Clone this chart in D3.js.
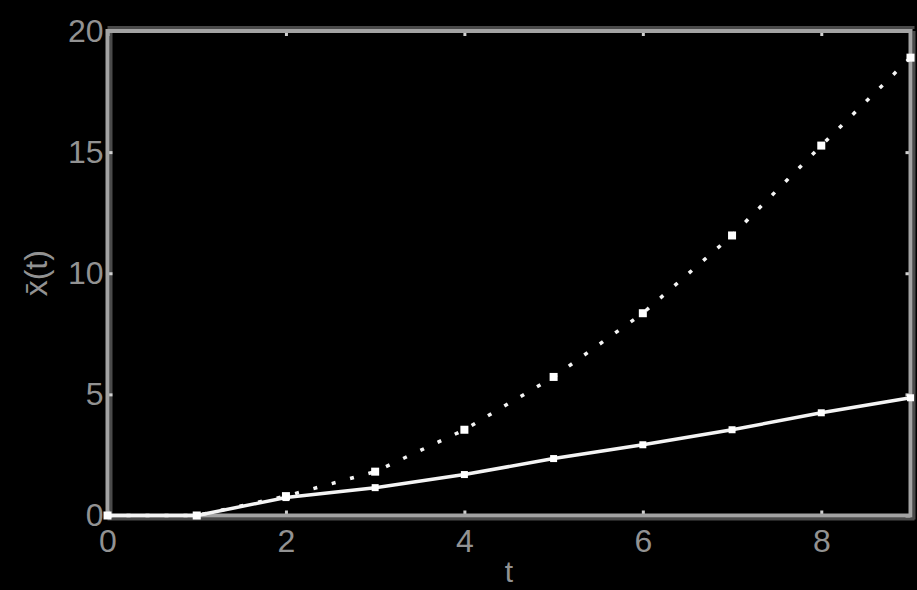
<!DOCTYPE html>
<html>
<head>
<meta charset="utf-8">
<script src="https://cdn.jsdelivr.net/npm/d3@7"></script>
<style>
  html, body { margin: 0; padding: 0; background: #000; }
  svg { display: block; }
</style>
</head>
<body>
<svg id="chart" width="917" height="590"></svg>
<script>
// ---- data ----
const tValues = [0, 1, 2, 3, 4, 5, 6, 7, 8, 9];
const upperSeries = [0, 0, 0.8, 1.81, 3.54, 5.72, 8.35, 11.56, 15.27, 18.9];   // dotted
const lowerSeries = [0, 0, 0.74, 1.15, 1.69, 2.35, 2.92, 3.54, 4.24, 4.86];   // solid
const xTicks = [0, 2, 4, 6, 8];
const yTicks = [0, 5, 10, 15, 20];
const xLabel = "t";
const yLabel = "x\u0304(t)";

// ---- layout ----
const W = 917, H = 590;
const pL = 107.5, pR = 910.5, pT = 31, pB = 515.5;
const svg = d3.select("#chart");
svg.append("rect").attr("width", W).attr("height", H).attr("fill", "#000");

const x = d3.scaleLinear().domain([0, 9]).range([pL, pR]);
const y = d3.scaleLinear().domain([0, 20]).range([pB, pT]);

const font = "'Liberation Sans', 'DejaVu Sans', Arial, sans-serif";
const axisColor = "#a3a3a3";
const shade = "#4a4a4a";
const textColor = "#929292";

// frame shadows
const g0 = svg.append("g");
g0.append("line").attr("x1", pL).attr("x2", pR + 4).attr("y1", pT - 3.5).attr("y2", pT - 3.5).attr("stroke", shade).attr("stroke-width", 3);
g0.append("line").attr("x1", pL + 3.5).attr("x2", pL + 3.5).attr("y1", pT).attr("y2", pB).attr("stroke", shade).attr("stroke-width", 3);
g0.append("line").attr("x1", pL).attr("x2", pR + 4).attr("y1", pB + 3.5).attr("y2", pB + 3.5).attr("stroke", shade).attr("stroke-width", 3);
g0.append("line").attr("x1", pR + 3.5).attr("x2", pR + 3.5).attr("y1", pT).attr("y2", pB + 4).attr("stroke", shade).attr("stroke-width", 3);

// axes (ticks inward)
function styleAxis(g) {
  g.select(".domain").remove();
  g.selectAll(".tick line").attr("stroke", "#d0d0d0").attr("stroke-width", 3);
  g.selectAll(".tick text").attr("fill", textColor).style("font-family", font).style("font-size", "32px");
}
svg.append("g").attr("transform", `translate(0,${pB})`)
  .call(d3.axisBottom(x).tickValues(xTicks).tickSizeInner(-5).tickSizeOuter(0).tickPadding(14).tickFormat(d3.format("d")))
  .call(styleAxis);
svg.append("g").attr("transform", `translate(0,${pT})`)
  .call(d3.axisTop(x).tickValues(xTicks).tickSizeInner(-5).tickSizeOuter(0).tickFormat(""))
  .call(styleAxis);
svg.append("g").attr("transform", `translate(${pL},0)`)
  .call(d3.axisLeft(y).tickValues(yTicks).tickSizeInner(-5).tickSizeOuter(0).tickPadding(4).tickFormat(d3.format("d")))
  .call(styleAxis);
svg.append("g").attr("transform", `translate(${pR},0)`)
  .call(d3.axisRight(y).tickValues(yTicks).tickSizeInner(-5).tickSizeOuter(0).tickFormat(""))
  .call(styleAxis);

// frame
svg.append("rect").attr("x", pL).attr("y", pT).attr("width", pR - pL).attr("height", pB - pT)
  .attr("fill", "none").attr("stroke", axisColor).attr("stroke-width", 4);

// series
const line = d3.line().x((d, i) => x(tValues[i])).y(d => y(d));
svg.append("path").datum(lowerSeries).attr("d", line)
  .attr("fill", "none").attr("stroke", "#f4f4f4").attr("stroke-width", 3.5);
svg.append("path").datum(upperSeries).attr("d", line)
  .attr("fill", "none").attr("stroke", "#f4f4f4").attr("stroke-width", 3.5)
  .attr("stroke-dasharray", "4,15");

svg.append("g").selectAll("rect").data(lowerSeries).join("rect")
  .attr("x", (d, i) => x(tValues[i]) - 3.5).attr("y", d => y(d) - 3.5)
  .attr("width", 7).attr("height", 7).attr("fill", "#fff");
svg.append("g").selectAll("rect").data(upperSeries).join("rect")
  .attr("x", (d, i) => x(tValues[i]) - 4).attr("y", d => y(d) - 4)
  .attr("width", 8).attr("height", 8).attr("fill", "#fff");

// labels
svg.append("text").attr("x", (pL + pR) / 2).attr("y", 582)
  .attr("text-anchor", "middle").attr("fill", textColor)
  .style("font-family", font).style("font-size", "30px").text(xLabel);
svg.append("text").attr("transform", `translate(47,${(pT + pB) / 2}) rotate(-90)`)
  .attr("text-anchor", "middle").attr("fill", textColor)
  .style("font-family", font).style("font-size", "32px").text(yLabel);
</script>
</body>
</html>
